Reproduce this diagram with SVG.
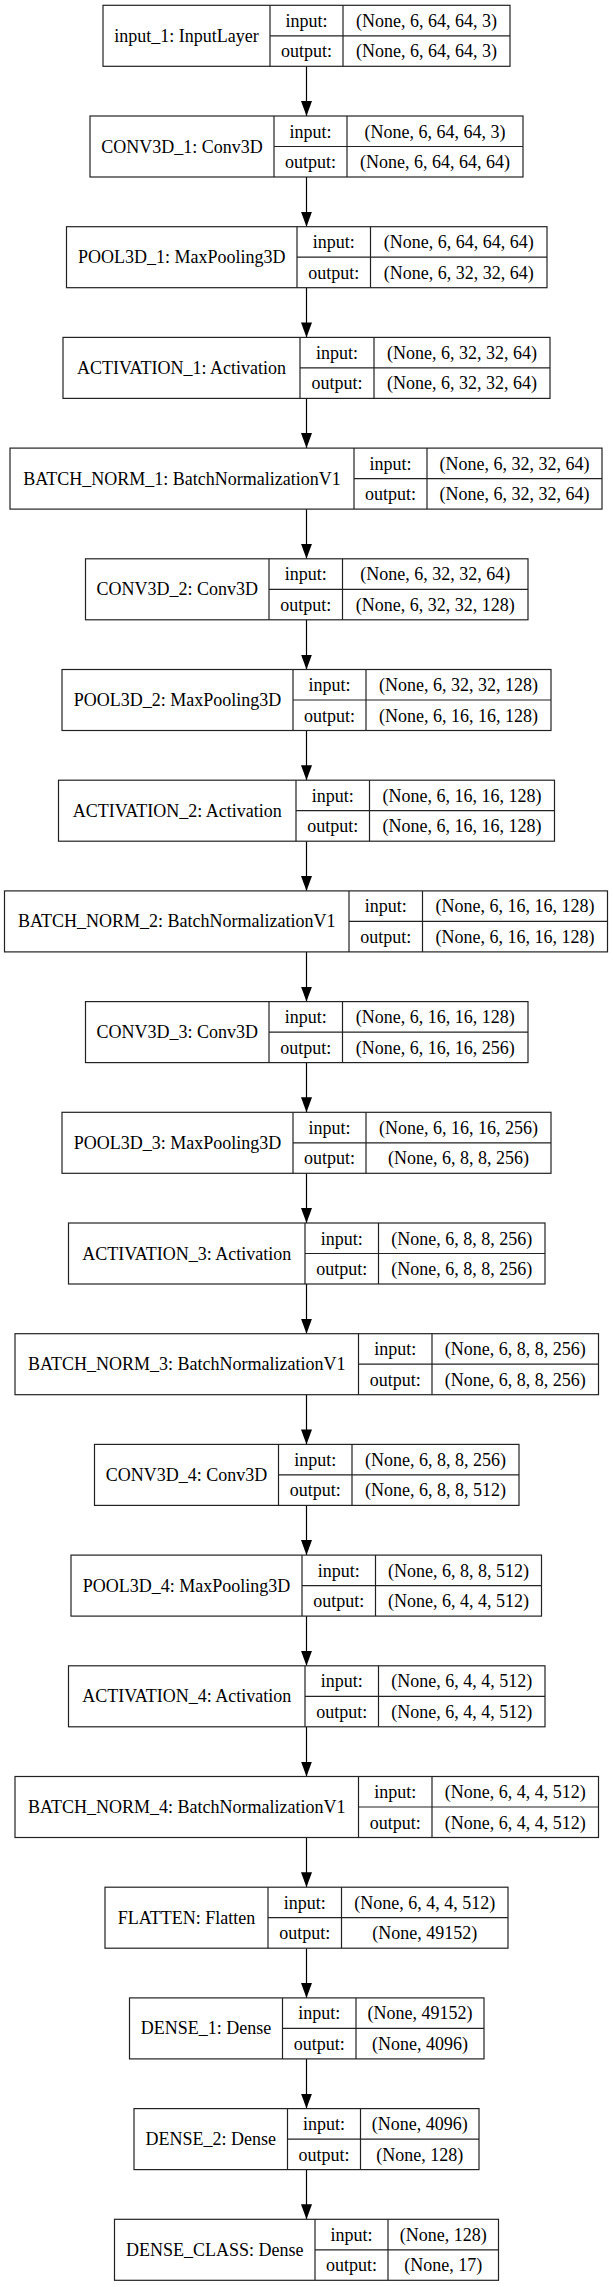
<svg xmlns="http://www.w3.org/2000/svg" width="613" height="2287" viewBox="0 0 613 2287">
<style>
.b{fill:#fff;stroke:#222;stroke-width:1.2}
.l{stroke:#222;stroke-width:1.2;fill:none}
text{font-family:"Liberation Serif","Times New Roman",serif;font-size:18px;fill:#000;text-anchor:middle}
.c{stroke:#000;stroke-width:1.2;fill:none;marker-end:url(#ah)}
</style>
<defs>
<marker id="ah" markerUnits="userSpaceOnUse" markerWidth="15" markerHeight="11" refX="15" refY="5.5" orient="auto">
<path d="M0,0 L15,5.5 L0,11 z" fill="#000"/>
</marker>
</defs>
<rect width="613" height="2287" fill="#fff"/>
<g id="connectors">
<line class="c" x1="306.5" y1="66.3" x2="306.5" y2="116.0"/>
<line class="c" x1="306.5" y1="177.0" x2="306.5" y2="226.7"/>
<line class="c" x1="306.5" y1="287.7" x2="306.5" y2="337.4"/>
<line class="c" x1="306.5" y1="398.4" x2="306.5" y2="448.1"/>
<line class="c" x1="306.5" y1="509.1" x2="306.5" y2="558.8"/>
<line class="c" x1="306.5" y1="619.8" x2="306.5" y2="669.5"/>
<line class="c" x1="306.5" y1="730.5" x2="306.5" y2="780.2"/>
<line class="c" x1="306.5" y1="841.2" x2="306.5" y2="890.9"/>
<line class="c" x1="306.5" y1="951.9" x2="306.5" y2="1001.6"/>
<line class="c" x1="306.5" y1="1062.6" x2="306.5" y2="1112.3"/>
<line class="c" x1="306.5" y1="1173.3" x2="306.5" y2="1223.0"/>
<line class="c" x1="306.5" y1="1284.0" x2="306.5" y2="1333.7"/>
<line class="c" x1="306.5" y1="1394.7" x2="306.5" y2="1444.4"/>
<line class="c" x1="306.5" y1="1505.4" x2="306.5" y2="1555.1"/>
<line class="c" x1="306.5" y1="1616.1" x2="306.5" y2="1665.8"/>
<line class="c" x1="306.5" y1="1726.8" x2="306.5" y2="1776.5"/>
<line class="c" x1="306.5" y1="1837.5" x2="306.5" y2="1887.2"/>
<line class="c" x1="306.5" y1="1948.2" x2="306.5" y2="1997.9"/>
<line class="c" x1="306.5" y1="2058.9" x2="306.5" y2="2108.6"/>
<line class="c" x1="306.5" y1="2169.6" x2="306.5" y2="2219.3"/>
</g>

<g id="input_1" transform="translate(0,5.3)">
<rect class="b" x="103" y="0" width="407" height="61"/>
<path class="l" d="M270,0V61M343,0V61M270,30.5H510"/>
<text x="186.5" y="36.5">input_1: InputLayer</text>
<text x="306.5" y="21.5">input:</text><text x="306.5" y="52">output:</text>
<text x="426.5" y="21.5">(None, 6, 64, 64, 3)</text><text x="426.5" y="52">(None, 6, 64, 64, 3)</text>
</g>

<g id="conv3d_1" transform="translate(0,116.0)">
<rect class="b" x="90" y="0" width="433" height="61"/>
<path class="l" d="M274,0V61M347,0V61M274,30.5H523"/>
<text x="182" y="36.5">CONV3D_1: Conv3D</text>
<text x="310.5" y="21.5">input:</text><text x="310.5" y="52">output:</text>
<text x="435" y="21.5">(None, 6, 64, 64, 3)</text><text x="435" y="52">(None, 6, 64, 64, 64)</text>
</g>

<g id="pool3d_1" transform="translate(0,226.7)">
<rect class="b" x="66.5" y="0" width="480.5" height="61"/>
<path class="l" d="M297,0V61M370.5,0V61M297,30.5H547"/>
<text x="181.75" y="36.5">POOL3D_1: MaxPooling3D</text>
<text x="333.75" y="21.5">input:</text><text x="333.75" y="52">output:</text>
<text x="458.75" y="21.5">(None, 6, 64, 64, 64)</text><text x="458.75" y="52">(None, 6, 32, 32, 64)</text>
</g>

<g id="activation_1" transform="translate(0,337.4)">
<rect class="b" x="63" y="0" width="487" height="61"/>
<path class="l" d="M300,0V61M374,0V61M300,30.5H550"/>
<text x="181.5" y="36.5">ACTIVATION_1: Activation</text>
<text x="337" y="21.5">input:</text><text x="337" y="52">output:</text>
<text x="462" y="21.5">(None, 6, 32, 32, 64)</text><text x="462" y="52">(None, 6, 32, 32, 64)</text>
</g>

<g id="batch_norm_1" transform="translate(0,448.1)">
<rect class="b" x="10" y="0" width="592" height="61"/>
<path class="l" d="M354,0V61M427,0V61M354,30.5H602"/>
<text x="182" y="36.5">BATCH_NORM_1: BatchNormalizationV1</text>
<text x="390.5" y="21.5">input:</text><text x="390.5" y="52">output:</text>
<text x="514.5" y="21.5">(None, 6, 32, 32, 64)</text><text x="514.5" y="52">(None, 6, 32, 32, 64)</text>
</g>

<g id="conv3d_2" transform="translate(0,558.8)">
<rect class="b" x="85.5" y="0" width="442.5" height="61"/>
<path class="l" d="M269,0V61M342.5,0V61M269,30.5H528"/>
<text x="177.25" y="36.5">CONV3D_2: Conv3D</text>
<text x="305.75" y="21.5">input:</text><text x="305.75" y="52">output:</text>
<text x="435.25" y="21.5">(None, 6, 32, 32, 64)</text><text x="435.25" y="52">(None, 6, 32, 32, 128)</text>
</g>

<g id="pool3d_2" transform="translate(0,669.5)">
<rect class="b" x="62" y="0" width="489" height="61"/>
<path class="l" d="M293,0V61M366,0V61M293,30.5H551"/>
<text x="177.5" y="36.5">POOL3D_2: MaxPooling3D</text>
<text x="329.5" y="21.5">input:</text><text x="329.5" y="52">output:</text>
<text x="458.5" y="21.5">(None, 6, 32, 32, 128)</text><text x="458.5" y="52">(None, 6, 16, 16, 128)</text>
</g>

<g id="activation_2" transform="translate(0,780.2)">
<rect class="b" x="58.5" y="0" width="496" height="61"/>
<path class="l" d="M296,0V61M369.5,0V61M296,30.5H554.5"/>
<text x="177.25" y="36.5">ACTIVATION_2: Activation</text>
<text x="332.75" y="21.5">input:</text><text x="332.75" y="52">output:</text>
<text x="462" y="21.5">(None, 6, 16, 16, 128)</text><text x="462" y="52">(None, 6, 16, 16, 128)</text>
</g>

<g id="batch_norm_2" transform="translate(0,890.9)">
<rect class="b" x="4.5" y="0" width="603" height="61"/>
<path class="l" d="M349,0V61M422.5,0V61M349,30.5H607.5"/>
<text x="176.75" y="36.5">BATCH_NORM_2: BatchNormalizationV1</text>
<text x="385.75" y="21.5">input:</text><text x="385.75" y="52">output:</text>
<text x="515" y="21.5">(None, 6, 16, 16, 128)</text><text x="515" y="52">(None, 6, 16, 16, 128)</text>
</g>

<g id="conv3d_3" transform="translate(0,1001.6)">
<rect class="b" x="85.5" y="0" width="442.5" height="61"/>
<path class="l" d="M269,0V61M342.5,0V61M269,30.5H528"/>
<text x="177.25" y="36.5">CONV3D_3: Conv3D</text>
<text x="305.75" y="21.5">input:</text><text x="305.75" y="52">output:</text>
<text x="435.25" y="21.5">(None, 6, 16, 16, 128)</text><text x="435.25" y="52">(None, 6, 16, 16, 256)</text>
</g>

<g id="pool3d_3" transform="translate(0,1112.3)">
<rect class="b" x="62" y="0" width="489" height="61"/>
<path class="l" d="M293,0V61M366,0V61M293,30.5H551"/>
<text x="177.5" y="36.5">POOL3D_3: MaxPooling3D</text>
<text x="329.5" y="21.5">input:</text><text x="329.5" y="52">output:</text>
<text x="458.5" y="21.5">(None, 6, 16, 16, 256)</text><text x="458.5" y="52">(None, 6, 8, 8, 256)</text>
</g>

<g id="activation_3" transform="translate(0,1223.0)">
<rect class="b" x="68.5" y="0" width="476.5" height="61"/>
<path class="l" d="M305,0V61M378.5,0V61M305,30.5H545"/>
<text x="186.75" y="36.5">ACTIVATION_3: Activation</text>
<text x="341.75" y="21.5">input:</text><text x="341.75" y="52">output:</text>
<text x="461.75" y="21.5">(None, 6, 8, 8, 256)</text><text x="461.75" y="52">(None, 6, 8, 8, 256)</text>
</g>

<g id="batch_norm_3" transform="translate(0,1333.7)">
<rect class="b" x="15" y="0" width="583.5" height="61"/>
<path class="l" d="M358.5,0V61M432,0V61M358.5,30.5H598.5"/>
<text x="186.75" y="36.5">BATCH_NORM_3: BatchNormalizationV1</text>
<text x="395.25" y="21.5">input:</text><text x="395.25" y="52">output:</text>
<text x="515.25" y="21.5">(None, 6, 8, 8, 256)</text><text x="515.25" y="52">(None, 6, 8, 8, 256)</text>
</g>

<g id="conv3d_4" transform="translate(0,1444.4)">
<rect class="b" x="94.5" y="0" width="424.5" height="61"/>
<path class="l" d="M278.5,0V61M352,0V61M278.5,30.5H519"/>
<text x="186.5" y="36.5">CONV3D_4: Conv3D</text>
<text x="315.25" y="21.5">input:</text><text x="315.25" y="52">output:</text>
<text x="435.5" y="21.5">(None, 6, 8, 8, 256)</text><text x="435.5" y="52">(None, 6, 8, 8, 512)</text>
</g>

<g id="pool3d_4" transform="translate(0,1555.1)">
<rect class="b" x="71" y="0" width="470.5" height="61"/>
<path class="l" d="M302,0V61M375.5,0V61M302,30.5H541.5"/>
<text x="186.5" y="36.5">POOL3D_4: MaxPooling3D</text>
<text x="338.75" y="21.5">input:</text><text x="338.75" y="52">output:</text>
<text x="458.5" y="21.5">(None, 6, 8, 8, 512)</text><text x="458.5" y="52">(None, 6, 4, 4, 512)</text>
</g>

<g id="activation_4" transform="translate(0,1665.8)">
<rect class="b" x="68.5" y="0" width="476.5" height="61"/>
<path class="l" d="M305,0V61M378.5,0V61M305,30.5H545"/>
<text x="186.75" y="36.5">ACTIVATION_4: Activation</text>
<text x="341.75" y="21.5">input:</text><text x="341.75" y="52">output:</text>
<text x="461.75" y="21.5">(None, 6, 4, 4, 512)</text><text x="461.75" y="52">(None, 6, 4, 4, 512)</text>
</g>

<g id="batch_norm_4" transform="translate(0,1776.5)">
<rect class="b" x="15" y="0" width="583.5" height="61"/>
<path class="l" d="M358.5,0V61M432,0V61M358.5,30.5H598.5"/>
<text x="186.75" y="36.5">BATCH_NORM_4: BatchNormalizationV1</text>
<text x="395.25" y="21.5">input:</text><text x="395.25" y="52">output:</text>
<text x="515.25" y="21.5">(None, 6, 4, 4, 512)</text><text x="515.25" y="52">(None, 6, 4, 4, 512)</text>
</g>

<g id="flatten" transform="translate(0,1887.2)">
<rect class="b" x="105" y="0" width="403" height="61"/>
<path class="l" d="M268,0V61M341.5,0V61M268,30.5H508"/>
<text x="186.5" y="36.5">FLATTEN: Flatten</text>
<text x="304.75" y="21.5">input:</text><text x="304.75" y="52">output:</text>
<text x="424.75" y="21.5">(None, 6, 4, 4, 512)</text><text x="424.75" y="52">(None, 49152)</text>
</g>

<g id="dense_1" transform="translate(0,1997.9)">
<rect class="b" x="129.5" y="0" width="354.5" height="61"/>
<path class="l" d="M282.5,0V61M356,0V61M282.5,30.5H484"/>
<text x="206" y="36.5">DENSE_1: Dense</text>
<text x="319.25" y="21.5">input:</text><text x="319.25" y="52">output:</text>
<text x="420" y="21.5">(None, 49152)</text><text x="420" y="52">(None, 4096)</text>
</g>

<g id="dense_2" transform="translate(0,2108.6)">
<rect class="b" x="134" y="0" width="345" height="61"/>
<path class="l" d="M287.5,0V61M360.5,0V61M287.5,30.5H479"/>
<text x="210.75" y="36.5">DENSE_2: Dense</text>
<text x="324" y="21.5">input:</text><text x="324" y="52">output:</text>
<text x="419.75" y="21.5">(None, 4096)</text><text x="419.75" y="52">(None, 128)</text>
</g>

<g id="dense_class" transform="translate(0,2219.3)">
<rect class="b" x="114.5" y="0" width="384" height="61"/>
<path class="l" d="M315,0V61M388,0V61M315,30.5H498.5"/>
<text x="214.75" y="36.5">DENSE_CLASS: Dense</text>
<text x="351.5" y="21.5">input:</text><text x="351.5" y="52">output:</text>
<text x="443.25" y="21.5">(None, 128)</text><text x="443.25" y="52">(None, 17)</text>
</g>
</svg>
